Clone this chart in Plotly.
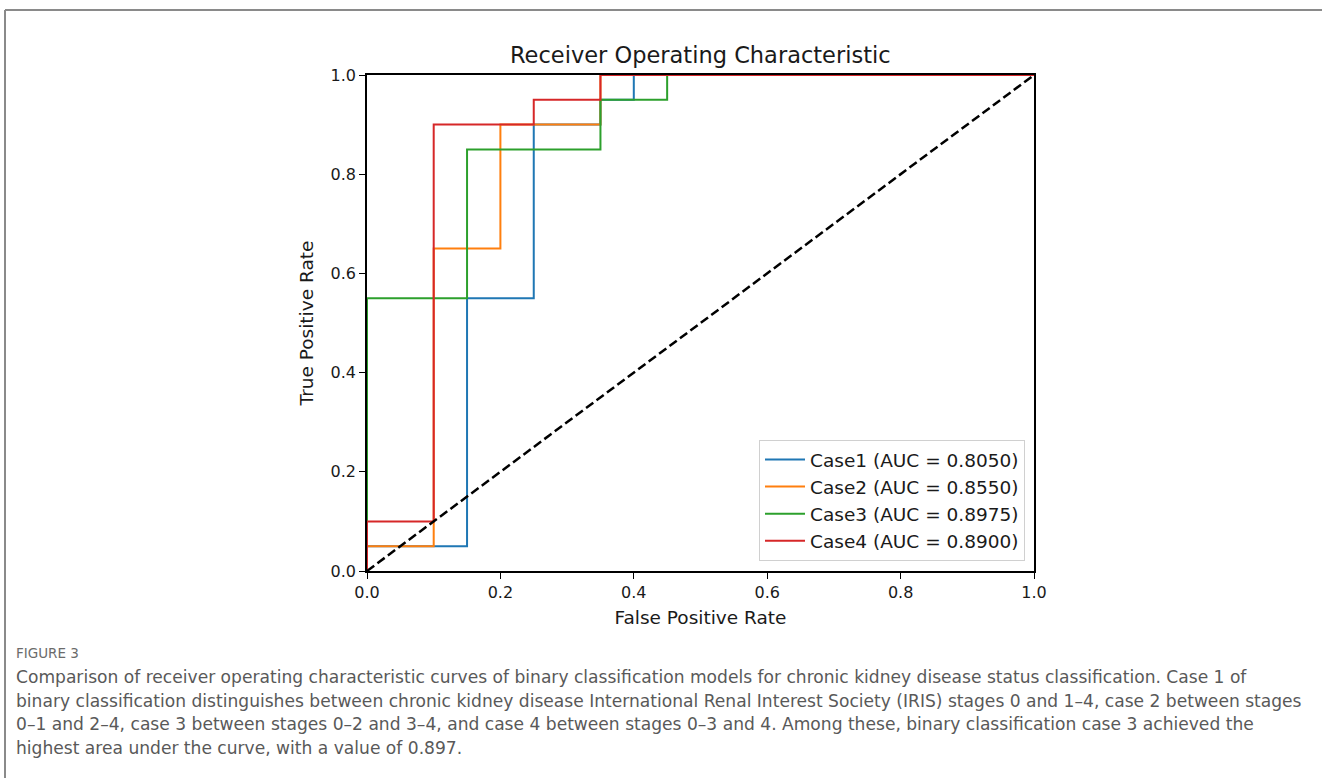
import plotly.graph_objects as go

# ---- data ----
case_names = ["Case1", "Case2", "Case3", "Case4"]
auc_values = [0.8050, 0.8550, 0.8975, 0.8900]
colors = ["#1f77b4", "#ff7f0e", "#2ca02c", "#d62728"]

fpr_case1 = [0.0, 0.0, 0.15, 0.15, 0.25, 0.25, 0.35, 0.35, 0.40, 0.40, 1.0]
tpr_case1 = [0.0, 0.05, 0.05, 0.55, 0.55, 0.90, 0.90, 0.95, 0.95, 1.0, 1.0]

fpr_case2 = [0.0, 0.0, 0.10, 0.10, 0.20, 0.20, 0.35, 0.35, 1.0]
tpr_case2 = [0.0, 0.05, 0.05, 0.65, 0.65, 0.90, 0.90, 1.0, 1.0]

fpr_case3 = [0.0, 0.0, 0.15, 0.15, 0.35, 0.35, 0.45, 0.45, 1.0]
tpr_case3 = [0.0, 0.55, 0.55, 0.85, 0.85, 0.95, 0.95, 1.0, 1.0]

fpr_case4 = [0.0, 0.0, 0.10, 0.10, 0.25, 0.25, 0.35, 0.35, 1.0]
tpr_case4 = [0.0, 0.10, 0.10, 0.90, 0.90, 0.95, 0.95, 1.0, 1.0]

chance_x = [0.0, 1.0]
chance_y = [0.0, 1.0]

tick_vals = [0.0, 0.2, 0.4, 0.6, 0.8, 1.0]
tick_text = ["0.0", "0.2", "0.4", "0.6", "0.8", "1.0"]

title_text = "Receiver Operating Characteristic"
x_title = "False Positive Rate"
y_title = "True Positive Rate"
figure_label = "FIGURE 3"
caption_lines = [
    "Comparison of receiver operating characteristic curves of binary classification models for chronic kidney disease status classification. Case 1 of",
    "binary classification distinguishes between chronic kidney disease International Renal Interest Society (IRIS) stages 0 and 1\u20134, case 2 between stages",
    "0\u20131 and 2\u20134, case 3 between stages 0\u20132 and 3\u20134, and case 4 between stages 0\u20133 and 4. Among these, binary classification case 3 achieved the",
    "highest area under the curve, with a value of 0.897.",
]

# ---- layout geometry (pixels) ----
W, H = 1322, 778
L, R, T, B = 367, 1034, 75, 571


def px(x):
    return (x - L) / (R - L)


def py(y):
    return (B - y) / (B - T)


TXT = "#1a1a1a"
fig = go.Figure()
series = [(fpr_case1, tpr_case1), (fpr_case2, tpr_case2), (fpr_case3, tpr_case3), (fpr_case4, tpr_case4)]
for (fx, ty), name, auc, col in zip(series, case_names, auc_values, colors):
    fig.add_trace(go.Scatter(
        x=fx, y=ty, mode="lines", name=f"{name} (AUC = {auc:.4f})",
        line=dict(color=col, width=2), cliponaxis=True,
    ))

fig.add_trace(go.Scatter(
    x=chance_x, y=chance_y, mode="lines", showlegend=False,
    line=dict(color="black", width=2.5, dash="9px,4px"),
))

axis_common = dict(
    range=[0, 1], showgrid=False, zeroline=False, showline=True, mirror=True,
    linecolor="black", linewidth=1.5, ticks="outside", ticklen=6, tickwidth=1.3,
    tickcolor="black", tickvals=tick_vals, ticktext=tick_text,
    tickfont=dict(family="DejaVu Sans", size=16, color=TXT),
)

fig.update_xaxes(**axis_common, title=dict(text=x_title, standoff=10,
                 font=dict(family="DejaVu Sans", size=18.5, color=TXT)))
fig.update_yaxes(**axis_common, title=dict(text=y_title, standoff=12,
                 font=dict(family="DejaVu Sans", size=18.5, color=TXT)))

annotations = [
    dict(text=title_text, x=px(700), y=py(55), xref="paper", yref="paper",
         showarrow=False, xanchor="center", yanchor="middle",
         font=dict(family="DejaVu Sans", size=22.5, color=TXT)),
    dict(text=figure_label, x=px(14), y=py(653), xref="paper", yref="paper",
         showarrow=False, xanchor="left", yanchor="middle",
         font=dict(family="DejaVu Sans", size=13.5, color="#6b6b6b")),
]
for i, line in enumerate(caption_lines):
    annotations.append(dict(
        text=line, x=px(14), y=py(677 + 23.7 * i), xref="paper", yref="paper",
        showarrow=False, xanchor="left", yanchor="middle",
        font=dict(family="DejaVu Sans", size=17.1, color="#595959"),
    ))

shapes = [
    dict(type="line", xref="paper", yref="paper", x0=px(5), x1=px(1322), y0=py(10), y1=py(10),
         line=dict(color="#8a8a8a", width=2)),
    dict(type="line", xref="paper", yref="paper", x0=px(5), x1=px(5), y0=py(10), y1=py(778),
         line=dict(color="#8a8a8a", width=2)),
]

fig.update_layout(
    width=W, height=H,
    margin=dict(l=L, r=W - R, t=T, b=H - B, autoexpand=False),
    paper_bgcolor="white", plot_bgcolor="white",
    showlegend=True,
    legend=dict(
        x=px(1025), y=py(561), xanchor="right", yanchor="bottom",
        bgcolor="rgba(255,255,255,0.8)", bordercolor="#d0d0d0", borderwidth=1,
        font=dict(family="DejaVu Sans", size=18.5, color=TXT),
        itemwidth=40, tracegroupgap=0,
    ),
    annotations=annotations,
    shapes=shapes,
)

fig.write_html(
    "out.html",
    config={"displayModeBar": False},
    post_script="document.body.style.margin='0';document.body.style.padding='0';",
)
